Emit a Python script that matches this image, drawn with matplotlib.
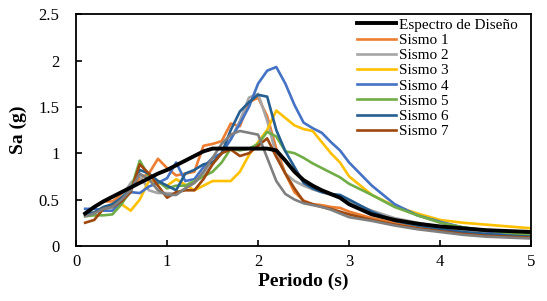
import numpy as np
import matplotlib.pyplot as plt

plt.rcParams['font.family'] = ['Liberation Serif', 'DejaVu Serif']

# periodos (s)
T = [0.1, 0.2, 0.3, 0.4, 0.5, 0.6, 0.7, 0.8, 0.9, 1.0,
     1.1, 1.2, 1.3, 1.4, 1.5, 1.6, 1.7, 1.8, 1.9, 2.0,
     2.1, 2.2, 2.3, 2.4, 2.5, 2.6, 2.7, 2.8, 2.9, 3.0,
     3.25, 3.5, 3.75, 4.0, 4.25, 4.5, 4.75, 5.0]

espectro = [0.35, 0.42, 0.48, 0.53, 0.58, 0.63, 0.68, 0.73, 0.78, 0.82,
            0.87, 0.92, 0.97, 1.02, 1.05, 1.05, 1.05, 1.05, 1.05, 1.05,
            1.05, 1.03, 0.92, 0.80, 0.71, 0.65, 0.60, 0.56, 0.52, 0.45,
            0.34, 0.28, 0.24, 0.21, 0.19, 0.17, 0.16, 0.15]

sismo1 = [0.35, 0.42, 0.48, 0.48, 0.55, 0.62, 0.73, 0.78, 0.94, 0.84,
          0.76, 0.78, 0.80, 1.08, 1.10, 1.13, 1.32, 1.29, 1.55, 1.60,
          1.40, 1.05, 0.78, 0.58, 0.49, 0.45, 0.44, 0.42, 0.41, 0.37,
          0.30, 0.25, 0.20, 0.17, 0.14, 0.12, 0.10, 0.09]

sismo2 = [0.33, 0.36, 0.40, 0.45, 0.52, 0.68, 0.76, 0.60, 0.57, 0.57,
          0.56, 0.62, 0.68, 0.76, 0.90, 1.00, 1.15, 1.35, 1.60, 1.64,
          1.35, 0.98, 0.78, 0.70, 0.65, 0.61, 0.58, 0.55, 0.52, 0.48,
          0.38, 0.30, 0.25, 0.20, 0.17, 0.14, 0.12, 0.10]

sismo3 = [0.35, 0.36, 0.40, 0.45, 0.45, 0.38, 0.50, 0.70, 0.68, 0.65,
          0.72, 0.66, 0.60, 0.65, 0.70, 0.70, 0.70, 0.80, 0.98, 1.12,
          1.25, 1.46, 1.38, 1.30, 1.26, 1.24, 1.12, 1.00, 0.90, 0.75,
          0.55, 0.43, 0.35, 0.28, 0.25, 0.23, 0.21, 0.19]

sismo4 = [0.40, 0.40, 0.38, 0.38, 0.48, 0.58, 0.57, 0.64, 0.68, 0.73,
          0.90, 0.70, 0.72, 0.85, 0.95, 1.00, 1.15, 1.32, 1.50, 1.75,
          1.89, 1.93, 1.75, 1.52, 1.33, 1.27, 1.22, 1.12, 1.03, 0.90,
          0.65, 0.45, 0.33, 0.26, 0.20, 0.16, 0.13, 0.12]

sismo5 = [0.32, 0.33, 0.33, 0.34, 0.45, 0.60, 0.92, 0.75, 0.70, 0.62,
          0.65, 0.65, 0.70, 0.75, 0.80, 0.90, 1.05, 1.03, 1.05, 1.10,
          1.23, 1.18, 1.02, 1.00, 0.95, 0.89, 0.84, 0.79, 0.74, 0.67,
          0.55, 0.42, 0.33, 0.25, 0.20, 0.17, 0.14, 0.12]

sismo6 = [0.35, 0.36, 0.42, 0.45, 0.52, 0.60, 0.82, 0.78, 0.70, 0.65,
          0.60, 0.78, 0.82, 0.88, 0.90, 1.00, 1.25, 1.45, 1.55, 1.63,
          1.61, 1.25, 1.02, 0.85, 0.68, 0.62, 0.58, 0.56, 0.55, 0.50,
          0.37, 0.27, 0.22, 0.18, 0.15, 0.13, 0.11, 0.10]

sismo7 = [0.25, 0.28, 0.40, 0.42, 0.48, 0.58, 0.88, 0.78, 0.65, 0.52,
          0.58, 0.60, 0.60, 0.72, 0.88, 1.00, 1.04, 0.97, 1.00, 1.08,
          1.16, 0.96, 0.78, 0.62, 0.48, 0.45, 0.42, 0.40, 0.37, 0.34,
          0.28, 0.23, 0.19, 0.16, 0.13, 0.11, 0.10, 0.09]

sismo8 = [0.32, 0.35, 0.40, 0.42, 0.50, 0.60, 0.78, 0.72, 0.60, 0.55,
          0.55, 0.62, 0.68, 0.80, 0.95, 1.10, 1.20, 1.24, 1.22, 1.20,
          0.95, 0.70, 0.56, 0.50, 0.46, 0.44, 0.42, 0.39, 0.35, 0.31,
          0.27, 0.22, 0.18, 0.15, 0.12, 0.10, 0.09, 0.08]

series = [
    ("Sismo 1", sismo1, "#ED7D31"),
    ("Sismo 2", sismo2, "#A5A5A5"),
    ("Sismo 3", sismo3, "#FFC000"),
    ("Sismo 4", sismo4, "#4472C4"),
    ("Sismo 5", sismo5, "#70AD47"),
    ("Sismo 6", sismo6, "#255E91"),
    ("Sismo 7", sismo7, "#9E480E"),
]

fig = plt.figure(figsize=(5.47, 3.01), dpi=100)
ax = fig.add_axes([0.139, 0.183, 0.832, 0.770])

ax.plot(T, espectro, color="black", lw=2.8, label="Espectro de Diseño", zorder=3)
for name, vals, col in series:
    ax.plot(T, vals, color=col, lw=1.9, label=name)
ax.plot(T, sismo8, color="#7F7F7F", lw=1.9, label="_nolegend_")

ax.set_xlim(0, 5)
ax.set_ylim(0, 2.5)
ax.set_xticks([0, 1, 2, 3, 4, 5])
ax.set_yticks([0, 0.5, 1, 1.5, 2, 2.5])
ax.set_yticklabels(["0", "0.5", "1", "1.5", "2", "2.5"])
ax.tick_params(direction="in", length=4, width=1.2, labelsize=12)
ax.tick_params(axis="x", pad=6)
ax.tick_params(axis="y", pad=12)
for s in ax.spines.values():
    s.set_linewidth(1.3)

ax.set_xlabel("Periodo (s)", fontsize=14, fontweight="bold", labelpad=2)
ax.set_ylabel("Sa (g)", fontsize=14, fontweight="bold", labelpad=8)

ax.legend(loc="upper right", frameon=False, fontsize=11, handlelength=2.6,
          handletextpad=0.2, labelspacing=0.1, borderaxespad=0.0,
          bbox_to_anchor=(0.985, 1.01))

fig.savefig("out.png", dpi=100)
